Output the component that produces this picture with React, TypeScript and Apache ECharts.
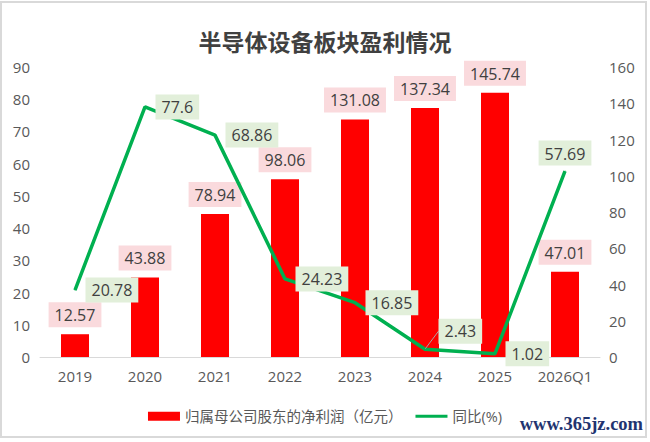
import React, { useEffect, useRef } from 'react';
import * as echarts from 'echarts';

const titleText = '半导体设备板块盈利情况';
const categories = ['2019', '2020', '2021', '2022', '2023', '2024', '2025', '2026Q1'];
const barName = '归属母公司股东的净利润（亿元）';
const lineName = '同比(%)';
const netProfit = [12.57, 43.88, 78.94, 98.06, 131.08, 137.34, 145.74, 47.01];
const yoy = [20.78, 77.6, 68.86, 24.23, 16.85, 2.43, 1.02, 57.69];
const leftAxis = { min: 0, max: 90, interval: 10 };
const rightAxis = { min: 0, max: 160, interval: 20 };
const watermark = 'www.365jz.com';

const FONT = "'Open Sans', 'Noto Sans CJK SC', sans-serif";

export default function App() {
  const ref = useRef<HTMLDivElement>(null);
  useEffect(() => {
    if (!ref.current) return;
    const chart = echarts.init(ref.current, null, { renderer: 'svg' });
    const labelBase = {
      show: true,
      fontSize: 16,
      fontFamily: FONT,
      color: '#404040',
      lineHeight: 18,
      padding: [4, 6, 3, 6],
    };
    const lineData = yoy.map((v, i) => {
      if (i === 5) {
        return {
          value: v,
          labelLine: { show: true, lineStyle: { color: '#A6A6A6', width: 1 } },
        };
      }
      if (i === 7) {
        return { value: v, label: { position: 'top', offset: [-12, 0], distance: 5 } };
      }
      return { value: v };
    });
    const axisLabelStyle = { color: '#595959', fontSize: 15, fontFamily: FONT };
    chart.setOption({
      animation: false,
      backgroundColor: '#ffffff',
      title: {
        text: titleText,
        left: 'center',
        top: 24,
        textStyle: { fontSize: 23, fontWeight: 'bold', color: '#404040', fontFamily: "'Noto Sans CJK SC', sans-serif" },
      },
      graphic: [
        {
          type: 'rect',
          shape: { x: 1, y: 2, width: 645, height: 435 },
          style: { fill: 'none', stroke: '#D9D9D9', lineWidth: 2 },
          silent: true,
        },
        {
          type: 'text',
          right: 7,
          bottom: 9,
          style: {
            text: watermark,
            fill: '#1F3470',
            font: "bold 18.5px 'Liberation Serif', serif",
          },
        },
      ],
      grid: { left: 40, right: 50, top: 67, bottom: 85 },
      legend: {
        top: 404,
        left: 'center',
        itemWidth: 32,
        itemHeight: 9,
        itemGap: 13,
        textStyle: { fontSize: 14.5, color: '#595959', fontFamily: FONT },
        data: [
          { name: barName, icon: 'rect' },
          { name: lineName, icon: 'path://M0 0H32V3H0Z' },
        ],
      },
      xAxis: {
        type: 'category',
        data: categories,
        axisLine: { lineStyle: { color: '#D9D9D9', width: 1 } },
        axisTick: { show: false },
        axisLabel: { ...axisLabelStyle, margin: 11, interval: 0 },
      },
      yAxis: [
        {
          type: 'value',
          position: 'left',
          ...leftAxis,
          splitLine: { show: false },
          axisLine: { show: false },
          axisTick: { show: false },
          axisLabel: { ...axisLabelStyle, margin: 10 },
        },
        {
          type: 'value',
          position: 'right',
          ...rightAxis,
          splitLine: { show: false },
          axisLine: { show: false },
          axisTick: { show: false },
          axisLabel: { ...axisLabelStyle, margin: 9 },
        },
      ],
      series: [
        {
          name: barName,
          type: 'bar',
          yAxisIndex: 1,
          data: netProfit,
          barWidth: 28,
          itemStyle: { color: '#FF0000' },
          label: { ...labelBase, position: 'top', distance: 7, backgroundColor: '#FADADD' },
          z: 2,
        },
        {
          name: lineName,
          type: 'line',
          yAxisIndex: 0,
          data: lineData,
          symbol: 'circle',
          symbolSize: 1,
          lineStyle: { color: '#00B050', width: 3.5 },
          itemStyle: { color: '#00B050' },
          label: { ...labelBase, position: 'right', distance: 10, backgroundColor: '#E2EFDA' },
          labelLayout: (params: any) => (params.dataIndex === 5 ? { dx: 3, dy: -18 } : {}),
          z: 3,
        },
      ],
    });
    return () => chart.dispose();
  }, []);
  return <div ref={ref} style={{ position: 'fixed', left: 0, top: 0, width: 650, height: 442 }} />;
}
